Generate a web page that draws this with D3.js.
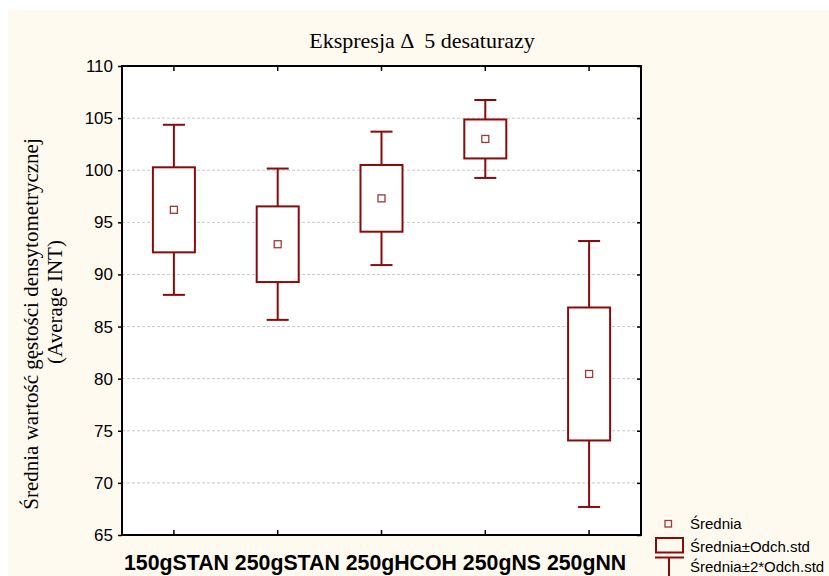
<!DOCTYPE html>
<html>
<head>
<meta charset="utf-8">
<script src="https://cdn.jsdelivr.net/npm/d3@7"></script>
<style>
  html, body { margin: 0; padding: 0; background: #ffffff; }
  svg { display: block; }
</style>
</head>
<body>
<svg id="chart" width="829" height="576"></svg>
<script>
// Groups and their statistics (mean and standard deviation)
const categories = ["150gSTAN", "250gSTAN", "250gHCOH", "250gNS", "250gNN"];
const means = [96.2, 92.9, 97.3, 103.0, 80.45];
const sds = [4.08, 3.63, 3.2, 1.87, 6.38];
const yTicks = [65, 70, 75, 80, 85, 90, 95, 100, 105, 110];
const legendLabels = ["Średnia", "Średnia±Odch.std", "Średnia±2*Odch.std"];

const data = categories.map((c, i) => ({ cat: c, mean: means[i], sd: sds[i] }));

const svg = d3.select("#chart");
const W = 829, H = 576;
const m = { left: 122, right: 641, top: 66, bottom: 535 };
const red = "#8b0a0a";

// Page background
svg.append("rect").attr("x", 0).attr("y", 0).attr("width", W).attr("height", H).attr("fill", "#ffffff");
svg.append("rect").attr("x", 8).attr("y", 10).attr("width", W - 8).attr("height", H - 10).attr("fill", "#fffaf0");

// Plot area
svg.append("rect")
  .attr("x", m.left).attr("y", m.top)
  .attr("width", m.right - m.left).attr("height", m.bottom - m.top)
  .attr("fill", "#ffffff");

const x = d3.scaleBand().domain(categories).range([m.left, m.right]).paddingInner(0).paddingOuter(0);
const y = d3.scaleLinear().domain([65, 110]).range([m.bottom, m.top]);
const cx = d => x(d) + x.bandwidth() / 2;

// Dotted gridlines
svg.append("g").selectAll("line")
  .data(yTicks.filter(t => t > 65 && t < 110))
  .join("line")
  .attr("x1", m.left).attr("x2", m.right)
  .attr("y1", d => y(d)).attr("y2", d => y(d))
  .attr("stroke", "#c8c8c8").attr("stroke-width", 1)
  .attr("stroke-dasharray", "3,2");

// Left axis with labels
const yAxis = d3.axisLeft(y).tickValues(yTicks).tickSize(4).tickPadding(5).tickFormat(d3.format("d"));
const gy = svg.append("g").attr("transform", `translate(${m.left},0)`).call(yAxis);
gy.select(".domain").remove();
gy.selectAll(".tick line").attr("stroke", "#000").attr("stroke-width", 1.5);
gy.selectAll(".tick text")
  .attr("font-family", "Liberation Sans, Arial, sans-serif")
  .attr("font-size", 17).attr("fill", "#000");

// Right axis: inward ticks
const gyr = svg.append("g").attr("transform", `translate(${m.right},0)`)
  .call(d3.axisLeft(y).tickValues(yTicks).tickSize(4).tickFormat(""));
gyr.select(".domain").remove();
gyr.selectAll(".tick line").attr("stroke", "#000").attr("stroke-width", 1.5);

// Bottom axis: ticks pointing up
const gx = svg.append("g").attr("transform", `translate(0,${m.bottom})`)
  .call(d3.axisTop(x).tickSize(5).tickFormat(""));
gx.select(".domain").remove();
gx.selectAll(".tick line").attr("stroke", "#000").attr("stroke-width", 1.5);

// Category labels: bold, packed left to right separated by one space
const xLab = svg.append("g")
  .attr("font-family", "Liberation Sans, Arial, sans-serif")
  .attr("font-weight", "bold").attr("font-size", 21.3).attr("fill", "#000");
const spaceProbe = xLab.append("text").text("a a");
const aProbe = xLab.append("text").text("aa");
const spaceW = spaceProbe.node().getComputedTextLength() - aProbe.node().getComputedTextLength();
spaceProbe.remove(); aProbe.remove();
let cursor = 124;
categories.forEach(c => {
  const t = xLab.append("text").attr("x", cursor).attr("y", 570).text(c);
  cursor += t.node().getComputedTextLength() + spaceW;
});

// Top axis: ticks pointing down
const gt = svg.append("g").attr("transform", `translate(0,${m.top})`)
  .call(d3.axisBottom(x).tickSize(5).tickFormat(""));
gt.select(".domain").remove();
gt.selectAll(".tick line").attr("stroke", "#000").attr("stroke-width", 1.5);

// Frame
svg.append("rect")
  .attr("x", m.left).attr("y", m.top)
  .attr("width", m.right - m.left).attr("height", m.bottom - m.top)
  .attr("fill", "none").attr("stroke", "#000").attr("stroke-width", 2);

// Box plots: box = mean ± sd, whiskers = mean ± 2 sd
const boxW = 42, capW = 22;
const g = svg.append("g").selectAll("g").data(data).join("g");

g.append("line")
  .attr("x1", d => cx(d.cat)).attr("x2", d => cx(d.cat))
  .attr("y1", d => y(d.mean + 2 * d.sd)).attr("y2", d => y(d.mean - 2 * d.sd))
  .attr("stroke", red).attr("stroke-width", 2);
g.append("line")
  .attr("x1", d => cx(d.cat) - capW / 2).attr("x2", d => cx(d.cat) + capW / 2)
  .attr("y1", d => y(d.mean + 2 * d.sd)).attr("y2", d => y(d.mean + 2 * d.sd))
  .attr("stroke", red).attr("stroke-width", 2);
g.append("line")
  .attr("x1", d => cx(d.cat) - capW / 2).attr("x2", d => cx(d.cat) + capW / 2)
  .attr("y1", d => y(d.mean - 2 * d.sd)).attr("y2", d => y(d.mean - 2 * d.sd))
  .attr("stroke", red).attr("stroke-width", 2);
g.append("rect")
  .attr("x", d => cx(d.cat) - boxW / 2)
  .attr("y", d => y(d.mean + d.sd))
  .attr("width", boxW)
  .attr("height", d => y(d.mean - d.sd) - y(d.mean + d.sd))
  .attr("fill", "#ffffff").attr("stroke", red).attr("stroke-width", 2);
g.append("rect")
  .attr("x", d => cx(d.cat) - 3.5).attr("y", d => y(d.mean) - 3.5)
  .attr("width", 7).attr("height", 7)
  .attr("fill", "none").attr("stroke", "#a03a3a").attr("stroke-width", 1.3);

// Title
svg.append("text")
  .attr("x", 422).attr("y", 48)
  .attr("text-anchor", "middle")
  .attr("font-family", "Liberation Serif, Times New Roman, serif")
  .attr("font-size", 22).attr("fill", "#000")
  .style("white-space", "pre")
  .text("Ekspresja Δ  5 desaturazy");

// Y-axis title (two lines)
const ylFont = { family: "Liberation Serif, Times New Roman, serif", size: 21 };
svg.append("text")
  .attr("transform", `translate(38,324) rotate(-90)`)
  .attr("text-anchor", "middle")
  .attr("font-family", ylFont.family)
  .attr("font-size", ylFont.size).attr("fill", "#000")
  .text("Średnia wartość gęstości densytometrycznej");
svg.append("text")
  .attr("transform", `translate(62,302) rotate(-90)`)
  .attr("text-anchor", "middle")
  .attr("font-family", ylFont.family)
  .attr("font-size", ylFont.size).attr("fill", "#000")
  .text("(Average INT)");

// Legend
const lg = svg.append("g");
lg.append("rect").attr("x", 665).attr("y", 520.5).attr("width", 6.5).attr("height", 6.5)
  .attr("fill", "none").attr("stroke", "#a03a3a").attr("stroke-width", 1.3);
lg.append("rect").attr("x", 656).attr("y", 538).attr("width", 27).attr("height", 14.5)
  .attr("fill", "none").attr("stroke", red).attr("stroke-width", 2);
lg.append("line").attr("x1", 655).attr("x2", 684).attr("y1", 557.5).attr("y2", 557.5)
  .attr("stroke", red).attr("stroke-width", 2);
lg.append("line").attr("x1", 669).attr("x2", 669).attr("y1", 557.5).attr("y2", 576)
  .attr("stroke", red).attr("stroke-width", 2);
lg.selectAll("text.lab").data(legendLabels).join("text")
  .attr("class", "lab")
  .attr("x", 690).attr("y", (d, i) => [529, 551.5, 572][i])
  .attr("font-family", "Liberation Sans, Arial, sans-serif")
  .attr("font-size", 15).attr("fill", "#000")
  .text(d => d);
</script>
</body>
</html>
